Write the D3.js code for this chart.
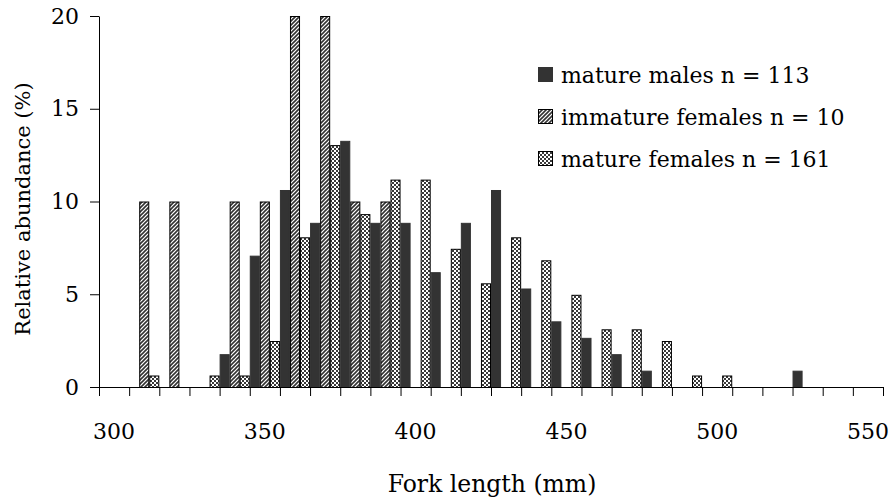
<!DOCTYPE html>
<html><head><meta charset="utf-8">
<script src="https://cdn.jsdelivr.net/npm/d3@7"></script>
<style>body{margin:0;background:#fff}svg{display:block}text{font-family:"DejaVu Serif","Liberation Serif",serif;fill:#000}</style>
</head><body><svg id="c" width="890" height="504"></svg>
<script>
const categories = [300,310,320,330,340,350,360,370,380,390,400,410,420,430,440,450,460,470,480,490,500,510,520,530,540,550];
const matureMales = [0,0,0,0,1.77,7.08,10.62,8.85,13.27,8.85,8.85,6.19,8.85,10.62,5.31,3.54,2.65,1.77,0.88,0,0,0,0,0.88,0,0];
const immatureFemales = [0,10,10,0,10,10,20,20,10,10,0,0,0,0,0,0,0,0,0,0,0,0,0,0,0,0];
const matureFemales = [0,0.62,0,0.62,0.62,2.48,8.07,13.04,9.32,11.18,11.18,7.45,5.59,8.07,6.83,4.97,3.11,3.11,2.48,0.62,0.62,0,0,0,0,0];
const seriesNames = ["mature males n = 113","immature females n = 10","mature females n = 161"];
const xTickLabels = [300,350,400,450,500,550];
const yTicks = [0,5,10,15,20];

const FONT = '"DejaVu Serif","Liberation Serif",serif';
const svg = d3.select("#c");
const defs = svg.append("defs");
const hatch = defs.append("pattern").attr("id","hatch").attr("patternUnits","userSpaceOnUse").attr("width",4).attr("height",4);
hatch.append("rect").attr("width",4).attr("height",4).attr("fill","#fff");
hatch.append("path").attr("d","M-1,1 l2,-2 M0,4 l4,-4 M3,5 l2,-2").attr("stroke","#333").attr("stroke-width",1.6);
const check = defs.append("pattern").attr("id","check").attr("patternUnits","userSpaceOnUse").attr("width",4).attr("height",4);
check.append("rect").attr("width",4).attr("height",4).attr("fill","#3a3a3a");
check.append("rect").attr("x",0).attr("y",0).attr("width",2).attr("height",2).attr("fill","#fff");
check.append("rect").attr("x",2).attr("y",2).attr("width",2).attr("height",2).attr("fill","#fff");

const fills = ["#333333","url(#hatch)","url(#check)"];
const strokes = ["#333333","#000","#000"];
const data = [matureMales, immatureFemales, matureFemales];

const x0 = 99, x1 = 883, yTop = 16, yBot = 387;
const x = d3.scaleBand().domain(categories).range([x0,x1]).padding(0);
const xs = d3.scaleBand().domain([0,1,2]).range([0,x.bandwidth()]).padding(0);
const y = d3.scaleLinear().domain([0,20]).range([yBot,yTop]);

data.forEach((vals,si)=>{
  svg.append("g").selectAll("rect").data(categories.map((c,i)=>({c,v:vals[i]})).filter(d=>d.v>0))
    .join("rect")
    .attr("x",d=>x(d.c)+xs(si)+0.5)
    .attr("y",d=>y(d.v)+0.5)
    .attr("width",xs.bandwidth()-1)
    .attr("height",d=>yBot-y(d.v))
    .attr("fill",fills[si]).attr("stroke",strokes[si]).attr("stroke-width",1);
});

const xb = d3.scaleLinear().domain([0,categories.length]).range([x0,x1]);
const gxb = svg.append("g").attr("transform",`translate(0,${yBot})`)
  .call(d3.axisBottom(xb).tickValues(d3.range(categories.length+1)).tickFormat("").tickSize(9).tickSizeOuter(0));
gxb.select(".domain").attr("stroke","#000");
gxb.selectAll("line").attr("stroke","#000");
const gxl = svg.append("g").attr("transform",`translate(0,${yBot})`)
  .call(d3.axisBottom(x).tickValues(xTickLabels).tickSize(0).tickPadding(36));
gxl.attr("font-family",FONT);
gxl.select(".domain").remove();
gxl.selectAll("text").attr("font-size",22);

const gy = svg.append("g").attr("transform",`translate(${x0},0)`)
  .call(d3.axisLeft(y).tickValues(yTicks).tickSize(9).tickSizeOuter(0).tickPadding(11));
gy.attr("font-family",FONT);
gy.select(".domain").attr("stroke","#000");
gy.selectAll("line").attr("stroke","#000");
gy.selectAll("text").attr("font-size",22);

svg.append("text").attr("transform","translate(30,209) rotate(-90)").attr("text-anchor","middle")
  .attr("font-size",21).text("Relative abundance (%)");
svg.append("text").attr("x",492).attr("y",492).attr("text-anchor","middle")
  .attr("font-size",23.5).text("Fork length (mm)");

const lg = svg.append("g");
const ly = [75,117,159];
seriesNames.forEach((n,i)=>{
  lg.append("rect").attr("x",538.5).attr("y",ly[i]-7.5).attr("width",14).attr("height",14)
    .attr("fill",fills[i]).attr("stroke",strokes[i]).attr("stroke-width",1);
  lg.append("text").attr("x",561).attr("y",ly[i]+8).attr("font-size",22).text(n);
});
</script></body></html>
